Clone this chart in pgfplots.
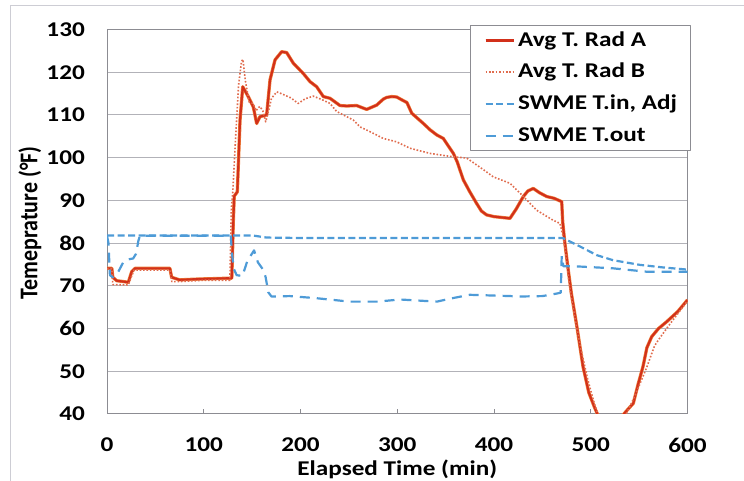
\documentclass[border=0pt]{standalone}
\usepackage{fontspec}
\setmainfont{Carlito}[FakeStretch=1.2]
\newfontfamily\ylabfont{Carlito}[FakeStretch=0.86]
\usepackage{pgfplots}
\pgfplotsset{compat=1.18}

\definecolor{radA}{RGB}{210,48,26}
\definecolor{radAedge}{RGB}{238,128,60}
\definecolor{radB}{RGB}{224,108,78}
\definecolor{swme}{RGB}{78,155,215}
\definecolor{gridc}{RGB}{178,178,184}
\definecolor{framec}{RGB}{140,140,146}
\definecolor{outerc}{RGB}{205,205,212}

\newcommand\chartfont{\fontsize{21bp}{25bp}\selectfont\bfseries}

\begin{document}
\begin{tikzpicture}
\useasboundingbox (0,0) rectangle (744bp,481bp);
% chart area border
\draw[outerc, line width=1bp] (10.5bp,-1bp) -- (10.5bp,475.5bp) -- (745bp,475.5bp);
\begin{axis}[
  at={(107bp,67bp)}, anchor=south west,
  width=580.5bp, height=384.5bp, scale only axis,
  xmin=0, xmax=600, ymin=40, ymax=130,
  xtick={0,100,...,600}, ytick={40,50,...,130},
  /pgf/number format/assume math mode=true,
  axis line style={draw=framec, line width=1bp},
  ymajorgrids, grid style={gridc, line width=1bp},
  xtick pos=bottom, tick align=inside, major tick length=5bp,
  xtick style={framec, line width=1bp}, ytick style={draw=none},
  tick label style={font=\chartfont},
  xticklabel style={inner sep=0pt, yshift=-24bp},
  yticklabel style={inner sep=0pt, xshift=-22bp},
  xlabel={Elapsed Time (min)},
  xlabel style={at={(axis description cs:0.5,-0.143)}, anchor=center, font=\chartfont},
  ylabel={Temeprature (°F)},
  ylabel style={at={(axis description cs:-0.1326,0.497)}, anchor=center,
                font=\ylabfont\fontsize{25.5bp}{28bp}\selectfont\bfseries},
  legend cell align=left,
  legend image code/.code={\draw[#1] (0bp,0bp) -- (28bp,0bp);},
  legend style={at={(axis description cs:1.006,1.0117)}, anchor=north east,
    draw=framec, line width=1bp, fill=white,
    inner xsep=13.5bp, inner ysep=4.5bp, font=\chartfont,
    row sep=10.7bp, /tikz/column sep=3bp,
    nodes={inner sep=0pt, text height=16bp, text depth=5bp}},
  line join=round,
]

% Radiator A, average temperature
\addplot[radA, line width=2.1bp, preaction={draw, radAedge, line width=3.3bp}] coordinates {
(0,74.1) (5,74.1) (6,72) (10,71.2) (20,70.9) (22,70.8) (25.5,73.3) (29,74.1)
(65,74.1) (66.8,72) (75,71.4) (96,71.6) (129,71.8) (130.6,85.4) (131.5,91)
(134.7,92) (137.5,108.8) (140.3,116.6) (146,114.3) (151.2,111.9) (154.7,108)
(158.1,109.6) (165,110) (168.5,118.2) (173.7,122.9) (180.5,124.8) (185.7,124.6)
(192.6,122.1) (202.9,119.7) (209.8,117.8) (216.7,116.6) (223.6,114.3)
(230.5,113.9) (240.8,112.2) (247.8,112.1) (258,112.2) (268.4,111.3)
(278.7,112.3) (285.6,113.7) (289,114.1) (294.3,114.3) (299.4,114.2)
(305,113.5) (310,112.9) (315,110.4) (321,109.2) (327,108) (334,106.5)
(341,105.3) (347.6,104.5) (352,103) (358,101) (362,99) (368.3,94.8)
(375,92) (382,89.3) (387,87.5) (392.4,86.6) (400,86.2) (416.5,85.8)
(423,88) (430.3,90.9) (435,92.2) (440.6,92.8) (447,91.8) (454.5,90.9)
(462,90.5) (469,89.8) (470,89.7) (471,85) (473,80.5) (476,75) (480,68.2)
(486,60) (492,51.1) (498,45) (504,41.5) (508,39.4) (520,35) (532,39.4)
(538,41) (544,42.5) (549,47) (554,51.1) (558,55.5) (563,58.1) (570,60)
(578.5,61.6) (590,64) (600,66.7)
};
\addlegendentry{Avg T. Rad A}

% Radiator B, average temperature
\addplot[radB, line width=1.6bp, dash pattern=on 1.6bp off 1.8bp] coordinates {
(0,74) (5,74) (6,70.3) (22,70.2) (25,72) (28,73.7) (65,73.7) (67,71)
(75,71) (100,71.3) (127,71.3) (128.5,88) (130,92) (133,105) (136,117)
(139,122.5) (140.5,123) (143,118) (147,113) (151,112.7) (154,111)
(158,112) (161,111) (164,108.4) (166,110) (170,113.9) (175.4,115.4)
(180,115) (190,114) (197.7,112.7) (205,113.8) (213.2,114.4) (222,113.6)
(230.5,112.7) (237.4,110.8) (254.6,108.8) (261.5,107.2) (270,106.3)
(285.6,104.5) (299.4,103.7) (313.2,102.2) (333.9,101) (354.5,100.3)
(371.8,99.9) (389,97.2) (399.3,95.5) (416.5,94) (426.9,91.7) (444.1,87.7)
(460,85.5) (468.2,84.6) (471,82) (474,78) (478,70) (484,62) (490,55)
(497,48) (503,43) (507,40.2) (512,36) (522,35) (535,39.4) (540,41.5)
(548,45.5) (558,51) (566,56) (572,58) (580,60.5) (590,63.5) (600,66.5)
};
\addlegendentry{Avg T. Rad B}

% SWME inlet temperature, adjusted
\addplot[swme, line width=2.2bp, dash pattern=on 7bp off 3.5bp] coordinates {
(0,81.8) (60,81.8) (130,81.8) (150,81.8) (165,81.3) (200,81.2) (300,81.2)
(400,81.2) (470,81.2) (472,81.1) (480,80.2) (489,79.2) (506,77.2)
(523,76) (551,74.9) (575,74.3) (600,73.8)
};
\addlegendentry{SWME T.in, Adj}

% SWME outlet temperature
\addplot[swme, line width=2.2bp, dash pattern=on 10bp off 7bp] coordinates {
(0,81.7) (1.5,80) (3,72.5) (6,72) (11.7,73.3) (17,75.6) (22,76.2) (27,76.4)
(30,77.5) (32.4,80.5) (34,81.7) (128,81.7) (129,78) (131,74) (134,72.5)
(140,72.3) (145,75.8) (152,78.3) (156,75.5) (161.6,73.7) (164,72)
(166.7,68.5) (170,67.5) (189,67.6) (216.7,67.1) (251,66.3) (279,66.3)
(303,66.8) (341,66.3) (354.5,67) (375,67.9) (417,67.6) (427,67.5)
(450,67.6) (465,68.2) (469,68.4) (470,77) (471.7,74.6) (490,74.5)
(523,74.1) (558,73.3) (600,73.3)
};
\addlegendentry{SWME T.out}

\end{axis}
\end{tikzpicture}
\end{document}
